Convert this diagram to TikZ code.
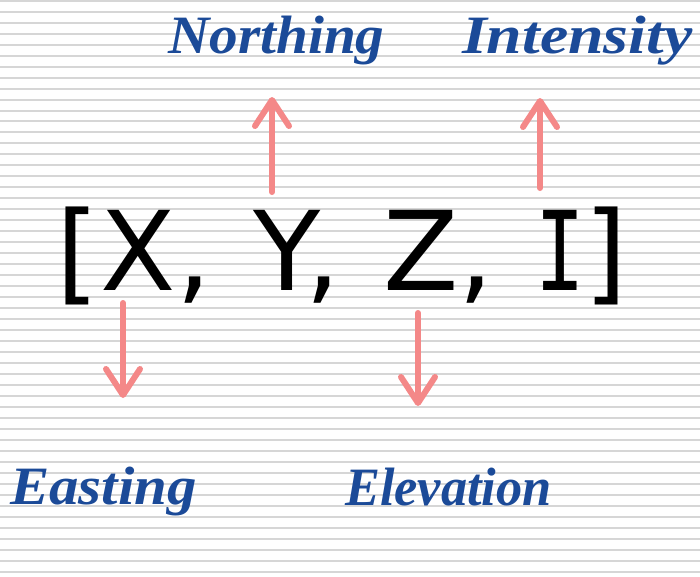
\documentclass[tikz,border=0pt]{standalone}
\usepackage{fontspec}
\setmainfont{DejaVu Sans}
\newfontfamily\handfont{Liberation Serif}[UprightFont=*, BoldItalicFont=* Bold Italic]
\newfontfamily\monoIfont{DejaVu Sans Mono}
\usetikzlibrary{arrows.meta}
\definecolor{inkblue}{RGB}{27,74,152}
\definecolor{penred}{RGB}{244,136,136}
\definecolor{ruleline}{RGB}{214,214,214}
\tikzset{
  ruled/.style={draw=ruleline, line width=2pt},
  glyph/.style={anchor=base, inner sep=0pt, font=\fontsize{110}{110}\selectfont},
  handlabel/.style={anchor=base west, inner sep=0pt, text=inkblue, font=\handfont\bfseries\itshape\fontsize{54}{54}\selectfont},
  penarrow/.style={draw=penred, line width=6pt, line cap=round, -{Straight Barb[length=26pt, width=34pt, round]}}
}
\begin{document}
\begin{tikzpicture}[x=1pt, y=-1pt]
\useasboundingbox (0,0) rectangle (700,576);
\fill[white] (0,0) rectangle (700,576);
\foreach \i in {0,...,52}{
  \pgfmathsetmacro{\yy}{0.7+\i*10.98}
  \draw[ruled] (0,\yy) -- (700,\yy);
}
% main vector
\node[glyph] (lb) at (77.5,290) {[};
\node[glyph] (X)  at (138,290) {X};
\node[glyph] (c1) at (194,290) {,};
\node[glyph] (Y)  at (287,290) {Y};
\node[glyph] (c2) at (323,290) {,};
\node[glyph] (Z)  at (421,290) {Z};
\node[glyph] (c3) at (476,290) {,};
\node[glyph] (I)  at (560,290) {\scalebox{0.75}[1]{\monoIfont I}};
\node[glyph] (rb) at (606,290) {]};
% labels
\node[handlabel] (north) at (168,53) {\scalebox{1.06}[1]{Northing}};
\node[handlabel] (inten) at (462,53) {\scalebox{1.18}[1]{Intensity}};
\node[handlabel] (east)  at (10,504) {\scalebox{1.09}[1]{Easting}};
\node[handlabel] (elev)  at (345,505) {\scalebox{0.97}[1]{Elevation}};
% arrow end points
\coordinate (yTail) at (272,192);
\coordinate (yTip)  at (272,97);
\coordinate (iTail) at (540,188);
\coordinate (iTip)  at (540,98);
\coordinate (xTail) at (123,303);
\coordinate (xTip)  at (123,398);
\coordinate (zTail) at (418,313);
\coordinate (zTip)  at (418,406);
\draw[penarrow] (yTail) -- (yTip);
\draw[penarrow] (iTail) -- (iTip);
\draw[penarrow] (xTail) -- (xTip);
\draw[penarrow] (zTail) -- (zTip);
\end{tikzpicture}
\end{document}
